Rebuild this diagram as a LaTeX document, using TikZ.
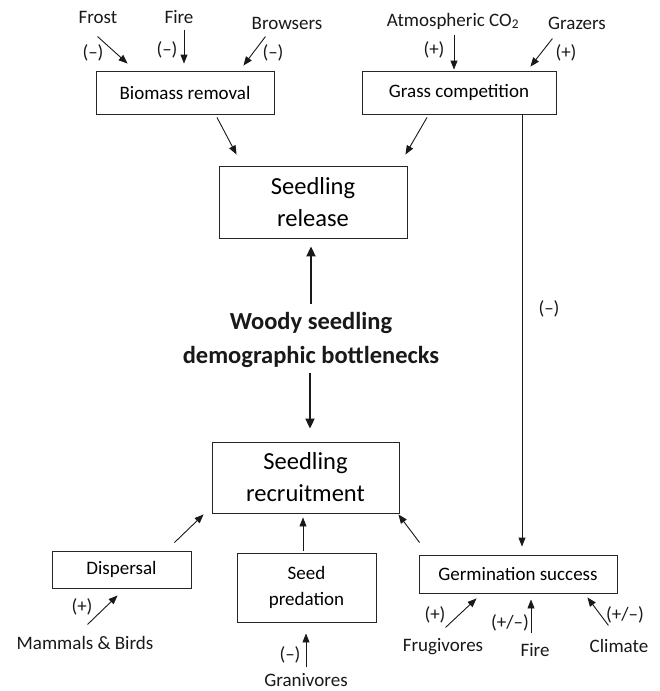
\documentclass[tikz,border=0pt]{standalone}
\usepackage{fontspec}
\setmainfont{Carlito}
\usetikzlibrary{arrows.meta, positioning, calc}
\tikzset{
    box/.style={
        rectangle, draw=black!85, line width=0.9pt, inner sep=0pt,
        align=center, font=\fontsize{19}{26}\selectfont
    },
    bigbox/.style={
        box, font=\fontsize{24.5}{32}\selectfont
    },
    lbl/.style={
        inner sep=0pt, text=black!90, font=\fontsize{19}{23}\selectfont
    },
    arr/.style={
        line width=0.9pt, -{Triangle[length=9pt, width=7pt]}, color=black!90
    },
    bigarr/.style={
        line width=2pt, -{Triangle[length=10pt, width=9pt]}, color=black!90
    }
}

\begin{document}
\begin{tikzpicture}[x=1pt, y=-1pt]
    \useasboundingbox[fill=white] (0,0) rectangle (660,691);

    % top row
    \node[box, minimum width=178pt, minimum height=43pt] (bio) at (185,92.5) {Biomass removal};
    \node[box, minimum width=194pt, minimum height=43pt] (grass) at (459,92.5) {Grass competition};

    \node[lbl] (frost) at (98,17) {Frost};
    \node[lbl] (fireA) at (179,17) {Fire};
    \node[lbl] (brow) at (287,23) {Browsers};
    \node[lbl] at (93,53) {(–)};
    \node[lbl] at (167,50) {(–)};
    \node[lbl] at (273,53) {(–)};
    \draw[arr] ($(bio.north west)+(2,-34)$) -- ($(bio.north west)+(32,-7)$);
    \draw[arr] ($(bio.north)+(-1,-41)$) -- ($(bio.north)+(-1,-7)$);
    \draw[arr] ($(bio.north east)+(-9,-34)$) -- ($(bio.north east)+(-31,-5)$);

    \node[lbl] (co2) at (453,21) {Atmospheric CO\textsubscript{2}};
    \node[lbl] (graz) at (577,23) {Grazers};
    \node[lbl] at (434,50) {(+)};
    \node[lbl] at (566,53) {(+)};
    \draw[arr] ($(grass.north)+(-5,-36)$) -- ($(grass.north)+(-5,-1)$);
    \draw[arr] ($(grass.north east)+(-4,-32)$) -- ($(grass.north east)+(-26,-4)$);

    % centre
    \node[bigbox, minimum width=188pt, minimum height=72pt] (release) at (313,202) {Seedling\\release};
    \node[inner sep=0pt, align=center, text=black!90, font=\fontsize{24.5}{34}\selectfont\bfseries] (woody) at (311,340) {Woody seedling\\demographic bottlenecks};
    \node[bigbox, minimum width=187pt, minimum height=71pt] (recruit) at (305.5,477.5) {Seedling\\recruitment};

    \draw[arr] ($(bio.south)+(32,3)$) -- ($(release.north west)+(18,-11)$);
    \draw[arr] ($(grass.south)+(-32,3)$) -- ($(release.north east)+(-2,-11)$);
    \draw[bigarr] ($(release.south)+(-2,66)$) -- ($(release.south)+(-2,8)$);
    \draw[bigarr] ($(recruit.north)+(4.5,-69)$) -- ($(recruit.north)+(4.5,-13)$);

    % bottom row
    \node[box, minimum width=139pt, minimum height=37pt] (disp) at (121.5,569.5) {Dispersal};
    \node[box, minimum width=139pt, minimum height=69pt] (pred) at (306.5,587.5) {Seed\\predation};
    \node[box, minimum width=198pt, minimum height=38pt] (germ) at (518,574) {Germination success};

    \draw[arr] ($(grass.south)+(63,0)$) -- ($(germ.north)+(4,-8)$)
        node[lbl, pos=0.45, xshift=27pt] {(–)};
    \draw[arr] ($(disp.north east)+(-17,-8)$) -- ($(recruit.south west)+(-8,1)$);
    \draw[arr] ($(pred.north)+(-3.5,-2)$) -- ($(recruit.south)+(-2.5,4)$);
    \draw[arr] ($(germ.north west)+(1,-12)$) -- ($(recruit.south east)+(-1,1)$);

    \node[lbl] (mam) at (85,643) {Mammals \& Birds};
    \node[lbl] at (82,607) {(+)};
    \draw[arr] ($(disp.south west)+(36,36)$) -- ($(disp.south west)+(66,7)$);

    \node[lbl] (gran) at (306,680) {Granivores};
    \node[lbl] at (290,655) {(–)};
    \draw[arr] ($(pred.south)+(-0.5,45)$) -- ($(pred.south)+(-0.5,11)$);

    \node[lbl] (frug) at (443,647) {Frugivores};
    \node[lbl] at (435,615) {(+)};
    \draw[arr] ($(germ.south west)+(27,34)$) -- ($(germ.south west)+(58,5)$);
    \node[lbl] (fireB) at (535,650) {Fire};
    \node[lbl] at (510,623) {(+/–)};
    \draw[arr] ($(germ.south)+(13,40)$) -- ($(germ.south)+(13,6)$);
    \node[lbl] (clim) at (619,646) {Climate};
    \node[lbl] at (625,615) {(+/–)};
    \draw[arr] ($(germ.south east)+(-9,32)$) -- ($(germ.south east)+(-30,4)$);
\end{tikzpicture}
\end{document}
